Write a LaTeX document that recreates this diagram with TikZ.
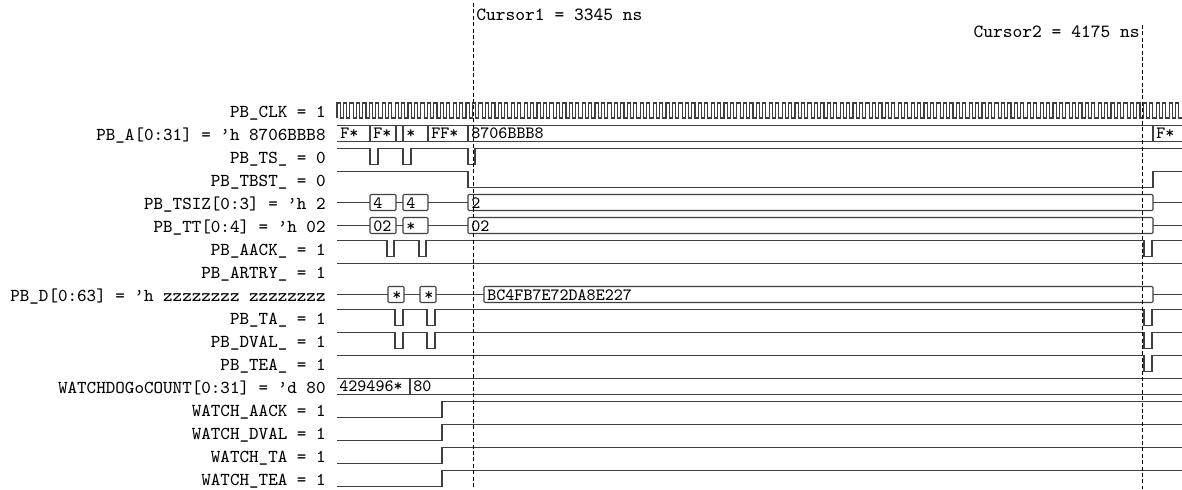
\documentclass[tikz,border=0pt]{standalone}

\begin{document}
\begin{tikzpicture}[x=0.5pt,y=-0.5pt,
  every node/.style={font=\ttfamily\fontsize{9.1}{10}\selectfont,inner sep=0pt},
  lbl/.style={anchor=base east},
  val/.style={anchor=base west,font=\ttfamily\fontsize{8.6}{10}\selectfont},
  sig/.style={line width=0.55pt,black!75},
  box/.style={sig,fill=white,rounded corners=0.6pt},
  cursor/.style={line width=0.5pt,dash pattern=on 2pt off 1.2pt}
]
  \useasboundingbox (0,0) rectangle (1182,489);
  % signal names
  \node[lbl] (clk)   at (326,117.5) {PB\_CLK = 1};
  \node[lbl] (addr)  at (326,140.5) {PB\_A[0:31] = ’h 8706BBB8};
  \node[lbl] (ts)    at (326,163.5) {PB\_TS\_ = 0};
  \node[lbl] (tbst)  at (326,186.5) {PB\_TBST\_ = 0};
  \node[lbl] (tsiz)  at (326,209.5) {PB\_TSIZ[0:3] = ’h 2};
  \node[lbl] (tt)    at (326,232.5) {PB\_TT[0:4] = ’h 02};
  \node[lbl] (aack)  at (326,255.5) {PB\_AACK\_ = 1};
  \node[lbl] (artry) at (326,278.5) {PB\_ARTRY\_ = 1};
  \node[lbl] (data)  at (326,301.5) {PB\_D[0:63] = ’h zzzzzzzz zzzzzzzz};
  \node[lbl] (ta)    at (326,324.5) {PB\_TA\_ = 1};
  \node[lbl] (dval)  at (326,347.5) {PB\_DVAL\_ = 1};
  \node[lbl] (tea)   at (326,370.5) {PB\_TEA\_ = 1};
  \node[lbl] (wdcnt) at (326,393.5) {WATCHDOGoCOUNT[0:31] = ’d 80};
  \node[lbl] (waack) at (326,416.5) {WATCH\_AACK = 1};
  \node[lbl] (wdval) at (326,439.5) {WATCH\_DVAL = 1};
  \node[lbl] (wta)   at (326,462.5) {WATCH\_TA = 1};
  \node[lbl] (wtea)  at (326,485.5) {WATCH\_TEA = 1};

  % clock
  \draw[sig] (337,118) \foreach \k in {1,...,131} {
    -- ++(0,-15) -- ++(3.225,0) -- ++(0,15) -- ++(3.225,0) };

  % address bus
  \draw[sig] (337,125.5) -- (1182,125.5) (337,141.5) -- (1182,141.5);
  \foreach \x in {370,396,403,428,468,1153}
    \draw[sig] (\x,125.5) -- (\x,141.5);
  \node[val] (a1) at (340,138.5) {F*};
  \node[val] (a2) at (373,138.5) {F*};
  \node[val] (a3) at (406,138.5) {*};
  \node[val] (a4) at (431,138.5) {FF*};
  \node[val] (a5) at (471,138.5) {8706BBB8};
  \node[val] (a6) at (1156,138.5) {F*};

  % control lines
  \draw[sig] (337,148.5) -| (370,164.5) -| (378,148.5) -| (403,164.5)
    -| (411,148.5) -| (468,164.5) -| (475,148.5) -- (1182,148.5);
  \draw[sig] (337,171.5) -| (468,187.5) -| (1153,171.5) -- (1182,171.5);

  % TSIZ and TT
  \draw[sig] (337,202.5) -- (1182,202.5);
  \draw[box] (370,194.5) rectangle (396,210.5);
  \draw[box] (403,194.5) rectangle (428,210.5);
  \draw[box] (468,194.5) rectangle (1153,210.5);
  \node[val] (s1) at (373,208) {4};
  \node[val] (s2) at (406,208) {4};
  \node[val] (s3) at (471,208) {2};
  \draw[sig] (337,225.5) -- (1182,225.5);
  \draw[box] (370,217.5) rectangle (396,233.5);
  \draw[box] (403,217.5) rectangle (428,233.5);
  \draw[box] (468,217.5) rectangle (1153,233.5);
  \node[val] (t1) at (373,231) {02};
  \node[val] (t2) at (406,231) {*};
  \node[val] (t3) at (471,231) {02};

  \draw[sig] (337,240.5) -| (387,256.5) -| (394,240.5) -| (419,256.5)
    -| (426,240.5) -| (1144,256.5) -| (1152,240.5) -- (1182,240.5);
  \draw[sig] (337,263.5) -- (1182,263.5);

  % data bus
  \draw[sig] (337,294.5) -- (1182,294.5);
  \draw[box] (388,286.5) rectangle (404,302.5);
  \draw[box] (420,286.5) rectangle (436,302.5);
  \draw[box] (484,286.5) rectangle (1153,302.5);
  \node[val] (d1) at (392,300) {*};
  \node[val] (d2) at (424,300) {*};
  \node[val] (d3) at (487,300) {BC4FB7E72DA8E227};

  \foreach \y in {309.5,332.5}
    \draw[sig] (337,\y) -| (395,\y+16) -| (403,\y) -| (427,\y+16)
      -| (435,\y) -| (1144,\y+16) -| (1152,\y) -- (1182,\y);
  \draw[sig] (337,355.5) -| (1144,371.5) -| (1152,355.5) -- (1182,355.5);

  % watchdog
  \draw[sig] (337,378.5) -- (1182,378.5) (337,394.5) -- (1182,394.5);
  \draw[sig] (410,378.5) -- (410,394.5);
  \node[val] (w1) at (339,391.5) {429496*};
  \node[val] (w2) at (413,391.5) {80};
  \foreach \y in {401.5,424.5,447.5,470.5}
    \draw[sig] (337,\y+16) -| (442,\y) -- (1182,\y);

  % cursors
  \node[anchor=west,font=\ttfamily\fontsize{9.3}{10}\selectfont] (cur1) at (476,15) {Cursor1 = 3345 ns};
  \node[anchor=east,font=\ttfamily\fontsize{9.3}{10}\selectfont] (cur2) at (1140,32) {Cursor2 = 4175 ns};
  \coordinate (c1a) at (473,3);   \coordinate (c1b) at (473,489);
  \coordinate (c2a) at (1142.5,25); \coordinate (c2b) at (1142.5,489);
  \draw[cursor] (c1a) -- (c1b);
  \draw[cursor] (c2a) -- (c2b);
\end{tikzpicture}
\end{document}
